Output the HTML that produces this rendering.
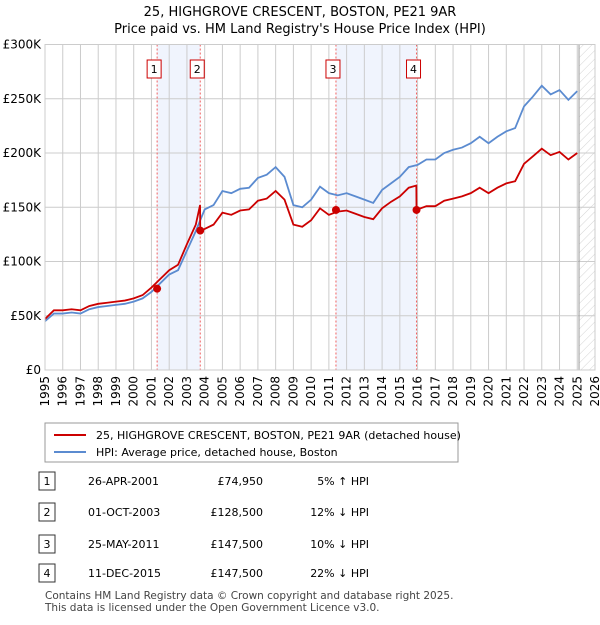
<!DOCTYPE html>
<html><head><meta charset="utf-8"><style>
body{margin:0;background:#fff;font-family:"Liberation Sans","DejaVu Sans",sans-serif;}
svg text{font-family:"DejaVu Sans","Liberation Sans",sans-serif;}
</style></head><body>
<svg id="c" width="600" height="620" viewBox="0 0 600 620" xmlns="http://www.w3.org/2000/svg">
<defs><pattern id="h" width="6" height="6" patternUnits="userSpaceOnUse" patternTransform="rotate(45)"><line x1="0" y1="0" x2="0" y2="6" stroke="#d4d4d4" stroke-width="1"/></pattern></defs>
<text x="300" y="16" text-anchor="middle" font-size="13">25, HIGHGROVE CRESCENT, BOSTON, PE21 9AR</text>
<text x="300" y="33" text-anchor="middle" font-size="13">Price paid vs. HM Land Registry's House Price Index (HPI)</text>
<g id="plot"></g>
<g>
<rect x="45" y="423" width="413" height="39" fill="#fff" stroke="#999"/>
<line x1="54" y1="435" x2="86" y2="435" stroke="#cc0000" stroke-width="2"/>
<text x="96" y="439" font-size="11">25, HIGHGROVE CRESCENT, BOSTON, PE21 9AR (detached house)</text>
<line x1="54" y1="452" x2="86" y2="452" stroke="#5b8bd0" stroke-width="2"/>
<text x="96" y="456" font-size="11">HPI: Average price, detached house, Boston</text>
</g>
<g id="tbl" font-size="11"></g>
<text x="45" y="599" font-size="10.5" fill="#444">Contains HM Land Registry data © Crown copyright and database right 2025.</text>
<text x="45" y="611" font-size="10.5" fill="#444">This data is licensed under the Open Government Licence v3.0.</text>
</svg>
<script>
const hpiYears=[1995,1995.5,1996,1996.5,1997,1997.5,1998,1998.5,1999,1999.5,2000,2000.5,2001,2001.5,2002,2002.5,2003,2003.5,2004,2004.5,2005,2005.5,2006,2006.5,2007,2007.5,2008,2008.5,2009,2009.5,2010,2010.5,2011,2011.5,2012,2012.5,2013,2013.5,2014,2014.5,2015,2015.5,2016,2016.5,2017,2017.5,2018,2018.5,2019,2019.5,2020,2020.5,2021,2021.5,2022,2022.5,2023,2023.5,2024,2024.5,2025];
const hpiValues=[45,52,52,53,52,56,58,59,60,61,63,66,72,80,88,92,110,128,148,152,165,163,167,168,177,180,187,178,152,150,157,169,163,161,163,160,157,154,166,172,178,187,189,194,194,200,203,205,209,215,209,215,220,223,243,252,262,254,258,249,257];
const priceYears=[1995,1995.5,1996,1996.5,1997,1997.5,1998,1998.5,1999,1999.5,2000,2000.5,2001,2001.5,2002,2002.5,2003,2003.5,2003.74,2003.75,2004,2004.5,2005,2005.5,2006,2006.5,2007,2007.5,2008,2008.5,2009,2009.5,2010,2010.5,2011,2011.5,2012,2012.5,2013,2013.5,2014,2014.5,2015,2015.5,2015.93,2015.94,2016,2016.5,2017,2017.5,2018,2018.5,2019,2019.5,2020,2020.5,2021,2021.5,2022,2022.5,2023,2023.5,2024,2024.5,2025];
const priceValues=[47,55,55,56,55,59,61,62,63,64,66,69,76,84,92,97,116,134,152,128.5,130,134,145,143,147,148,156,158,165,157,134,132,138,149,143,146,147,144,141,139,149,155,160,168,170,147.5,148,151,151,156,158,160,163,168,163,168,172,174,190,197,204,198,201,194,200];
const saleYears=[2001.32,2003.75,2011.4,2015.94];
const salePrices=[74.95,128.5,147.5,147.5];
const saleDates=["26-APR-2001","01-OCT-2003","25-MAY-2011","11-DEC-2015"];
const saleLabels=["£74,950","£128,500","£147,500","£147,500"];
const saleHpi=["5% ↑ HPI","12% ↓ HPI","10% ↓ HPI","22% ↓ HPI"];
const yTicks=[0,50,100,150,200,250,300];
const yTickLabels=["£0","£50K","£100K","£150K","£200K","£250K","£300K"];
const xTicks=[];for(let y=1995;y<=2026;y++)xTicks.push(y);

const NS="http://www.w3.org/2000/svg";
const X0=45,X1=595,Y0=370,Y1=44.5;
const xs=y=>X0+(y-1995)*(X1-X0)/31;
const ys=v=>Y0-v*(Y0-Y1)/300;
const plot=document.getElementById('plot');
function mk(tag,at,parent){const e=document.createElementNS(NS,tag);for(const k in at)e.setAttribute(k,at[k]);(parent||plot).appendChild(e);return e;}
for(let i=0;i<4;i+=2){
 const r=mk('rect',{x:xs(saleYears[i]),y:Y1,width:xs(saleYears[i+1])-xs(saleYears[i]),height:Y0-Y1,fill:'#f0f4fd'});
 
 
}
const ht=mk('rect',{x:xs(2025.1),y:Y1,width:X1-xs(2025.1),height:Y0-Y1,fill:'url(#h)'});


xTicks.forEach(t=>{
 const l=mk('line',{x1:xs(t),x2:xs(t),y1:Y1,y2:Y0,stroke:'#ccc','stroke-width':1});
 
 
 const tx=mk('text',{x:0,y:0,'font-size':12,'text-anchor':'end',transform:`translate(${xs(t)+4},${Y0+6}) rotate(-90)`});
 tx.textContent=t;
 
 
});
yTicks.forEach((t,i)=>{
 const l=mk('line',{x1:X0,x2:X1,y1:ys(t),y2:ys(t),stroke:'#ccc','stroke-width':1});
 
 
 const tx=mk('text',{x:X0-4,y:ys(t)+4,'font-size':12,'text-anchor':'end'});
 tx.textContent=yTickLabels[i];
 
 
});
const vl=mk('line',{x1:xs(2025.1),x2:xs(2025.1),y1:Y1,y2:Y0,stroke:'#999','stroke-width':1});


saleYears.forEach((s,i)=>{
 const l=mk('line',{x1:xs(s),x2:xs(s),y1:Y1,y2:Y0,stroke:'#f06060','stroke-width':1,'stroke-dasharray':'2,2'});
 
 
 const b=mk('rect',{x:xs(s)-10,y:60,width:14,height:18,fill:'#fff',stroke:'#cc0000'});
 
 
 const t=mk('text',{x:xs(s)-3,y:73,'font-size':11,'text-anchor':'middle'});
 t.textContent=i+1;
 
 
});
const hp=mk('polyline',{points:hpiYears.map((y,i)=>xs(y)+','+ys(hpiValues[i])).join(' '),fill:'none',stroke:'#5b8bd0','stroke-width':1.8});


const pp=mk('polyline',{points:priceYears.map((y,i)=>xs(y)+','+ys(priceValues[i])).join(' '),fill:'none',stroke:'#cc0000','stroke-width':1.8});


saleYears.forEach((s,i)=>{
 const c=mk('circle',{cx:xs(s),cy:ys(salePrices[i]),r:4,fill:'#cc0000'});
 
 
});
const fr=mk('rect',{x:X0,y:Y1,width:X1-X0,height:Y0-Y1,fill:'none',stroke:'#ccc'});


const tbl=document.getElementById('tbl');
const rowY=[482,513,545,574];
rowY.forEach((y,i)=>{
 const b=mk('rect',{x:39,y:y-10,width:16,height:18,fill:'#fff',stroke:'#333'},tbl);
 
 
 const n=mk('text',{x:47,y:y+3,'text-anchor':'middle'},tbl);n.textContent=i+1;
 
 
 const d=mk('text',{x:88,y:y+3},tbl);d.textContent=saleDates[i];
 
 
 const p=mk('text',{x:263,y:y+3,'text-anchor':'end'},tbl);p.textContent=saleLabels[i];
 
 
 const h=mk('text',{x:369,y:y+3,'text-anchor':'end'},tbl);h.textContent=saleHpi[i];
 
 
});
</script>
</body></html>
